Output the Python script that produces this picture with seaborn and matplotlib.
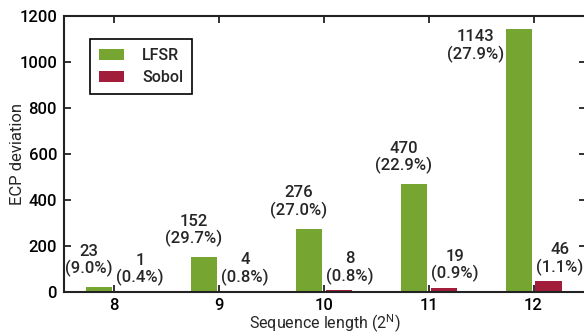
import matplotlib
matplotlib.use("Agg")
import matplotlib.pyplot as plt
import seaborn as sns
import pandas as pd

categories = ["8", "9", "10", "11", "12"]
lfsr_values = [23, 152, 276, 470, 1143]
sobol_values = [1, 4, 8, 19, 46]
lfsr_pct = ["9.0%", "29.7%", "27.0%", "22.9%", "27.9%"]
sobol_pct = ["0.4%", "0.8%", "0.8%", "0.9%", "1.1%"]
series_names = ["LFSR", "Sobol"]
colors = ["#76A532", "#A11D3A"]
yticks = [0, 200, 400, 600, 800, 1000, 1200]

sns.set_theme(style="ticks")
plt.rcParams["font.family"] = ["Roboto", "DejaVu Sans"]
plt.rcParams["font.weight"] = "medium"
plt.rcParams["mathtext.fontset"] = "custom"
plt.rcParams["mathtext.rm"] = "Roboto:medium"

df = pd.DataFrame({
    "N": categories * 2,
    "value": lfsr_values + sobol_values,
    "method": [series_names[0]] * len(categories) + [series_names[1]] * len(categories),
})

fig = plt.figure(figsize=(5.84, 3.35), dpi=100)
ax = fig.add_axes([64 / 584, 43 / 335, 522 / 584, 276 / 335])

sns.barplot(data=df, x="N", y="value", hue="method", order=categories,
            hue_order=series_names, palette=colors, saturation=1,
            width=0.57, gap=0.13, ax=ax, linewidth=0)

ax.set_xlim(-0.476, 4.5)
ax.set_ylim(0, 1200)
ax.set_yticks(yticks)
ax.tick_params(axis="both", which="major", direction="in", length=5, width=1.3,
               top=True, right=True, labelsize=12, colors="#222222",
               labelcolor="black", pad=5)
ax.tick_params(axis="x", pad=4.5)
for s in ax.spines.values():
    s.set_linewidth(1.5)
    s.set_color("#222222")

ax.set_xlabel(r"Sequence length (2$^\mathregular{N}$)", fontsize=11.5)
ax.xaxis.set_label_coords(0.5, -0.136)
ax.xaxis.label.set_va("baseline")
ax.set_ylabel("ECP deviation", fontsize=12)
ax.yaxis.set_label_coords(-0.09, 0.5)
ax.yaxis.label.set_va("center")

fs = 12
for i, (v, p) in enumerate(zip(lfsr_values, lfsr_pct)):
    if i == len(lfsr_values) - 1:
        ax.annotate(f"{v}\n({p})", xy=(i - 0.55, v), ha="center", va="top",
                    fontsize=fs, linespacing=1.1)
    else:
        ax.annotate(f"{v}\n({p})", xy=(i - 0.24, v), xytext=(0, 7),
                    textcoords="offset points", ha="center", va="bottom",
                    fontsize=fs, linespacing=1.1)
for i, (v, p) in enumerate(zip(sobol_values, sobol_pct)):
    ax.annotate(f"{v}\n({p})", xy=(i + 0.25, v), xytext=(0, 4),
                textcoords="offset points", ha="center", va="bottom",
                fontsize=fs, linespacing=1.1)

leg = ax.legend(loc="upper left", bbox_to_anchor=(0.05, 0.917), borderaxespad=0,
                frameon=True, fancybox=False, edgecolor="black", framealpha=1,
                fontsize=11.5, handlelength=1.6, handleheight=0.7, title=None,
                borderpad=0.55, labelspacing=0.45, handletextpad=1.1)
leg.get_frame().set_linewidth(1.2)

fig.savefig("out.png", dpi=100)
